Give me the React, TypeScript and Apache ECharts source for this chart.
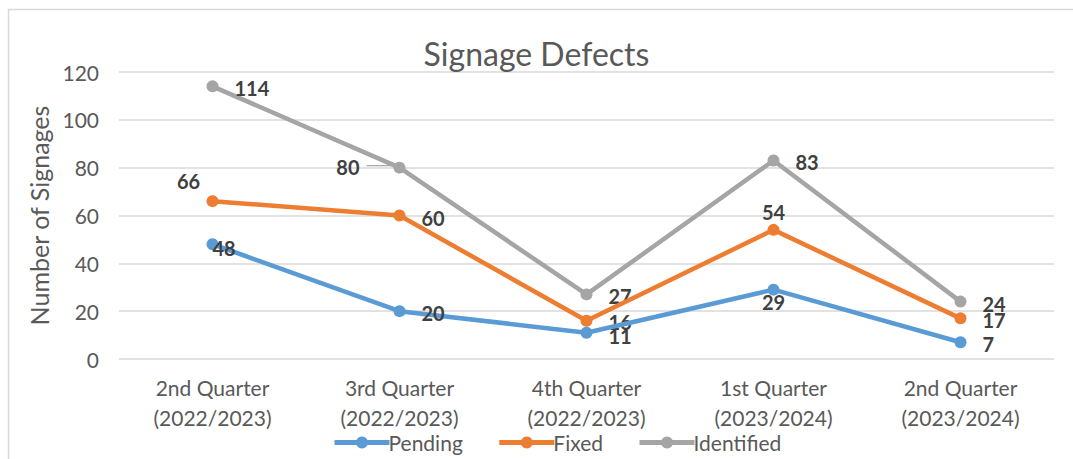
import React, { useEffect, useRef } from "react";
import * as echarts from "echarts";

const categories = [
  "2nd Quarter\n(2022/2023)",
  "3rd Quarter\n(2022/2023)",
  "4th Quarter\n(2022/2023)",
  "1st Quarter\n(2023/2024)",
  "2nd Quarter\n(2023/2024)",
];
const pending = [48, 20, 11, 29, 7];
const fixed = [66, 60, 16, 54, 17];
const identified = [114, 80, 27, 83, 24];
const yTicks = [0, 20, 40, 60, 80, 100, 120];
const seriesNames = ["Pending", "Fixed", "Identified"];

// label placement per point (style, not data)
const pendingPlace = ["overlap", "right", "rightLow", "bottom", "right"];
const fixedPlace = ["topLeft", "right", "rightUp", "top", "right"];
const identifiedPlace = ["right", "left", "right", "right", "right"];

const FONT = "Lato, 'Open Sans', sans-serif";
const LABEL_COLOR = "#404040";
const TEXT_COLOR = "#595959";

function labelFor(place: string) {
  switch (place) {
    case "left":
      return { position: "left", distance: 34, offset: [0, -1] };
    case "top":
      return { position: "top", distance: 2 };
    case "bottom":
      return { position: "bottom", distance: 0, offset: [0, -4] };
    case "topLeft":
      return { position: "top", distance: 4, offset: [-24, 0] };
    case "overlap":
      return { position: "right", distance: -6, offset: [0, 4] };
    case "rightLow":
      return { position: "right", distance: 16, offset: [0, 3] };
    case "rightUp":
      return { position: "right", distance: 16, offset: [0, 1] };
    default:
      return { position: "right", distance: 16, offset: [0, 2] };
  }
}

function buildData(values: number[], places: string[]) {
  return values.map((v, i) => ({ value: v, label: labelFor(places[i]) }));
}

function makeSeries(name: string, color: string, values: number[], places: string[]) {
  return {
    name,
    type: "line",
    data: buildData(values, places),
    symbol: "circle",
    symbolSize: 12,
    lineStyle: { color, width: 4.5 },
    itemStyle: { color },
    label: {
      show: true,
      color: LABEL_COLOR,
      fontFamily: FONT,
      fontWeight: "bold",
      fontSize: 20,
    },
    z: name === "Identified" ? 2 : name === "Fixed" ? 3 : 4,
  };
}

export default function App() {
  const ref = useRef<HTMLDivElement>(null);
  useEffect(() => {
    if (!ref.current) return;
    const chart = echarts.init(ref.current, null, { renderer: "svg" });
    chart.setOption({
      animation: false,
      backgroundColor: "#ffffff",
      textStyle: { fontFamily: FONT },
      title: {
        text: "Signage Defects",
        left: "center",
        top: 32,
        textStyle: { fontFamily: FONT, fontSize: 32, fontWeight: "normal", color: TEXT_COLOR },
      },
      legend: {
        bottom: 1,
        left: 327,
        itemWidth: 55,
        itemHeight: 15,
        itemGap: 34,
        lineStyle: { width: 5 },
        textStyle: { fontFamily: FONT, fontSize: 21, color: TEXT_COLOR, padding: [0, 0, 0, -6] },
        data: seriesNames.map((n) => ({ name: n, lineStyle: { width: 5 } })),
      },
      grid: { left: 119, right: 19, top: 72, bottom: 100 },
      xAxis: {
        type: "category",
        data: categories,
        boundaryGap: true,
        axisLine: { show: false },
        axisTick: { show: false },
        axisLabel: {
          fontFamily: FONT,
          fontSize: 21,
          color: TEXT_COLOR,
          margin: 13,
          lineHeight: 30,
        },
      },
      yAxis: {
        type: "value",
        min: yTicks[0],
        max: yTicks[yTicks.length - 1],
        interval: 20,
        name: "Number of Signages",
        nameLocation: "middle",
        nameGap: 67,
        nameTextStyle: { fontFamily: FONT, fontSize: 25, color: TEXT_COLOR },
        axisLine: { show: false },
        axisTick: { show: false },
        axisLabel: { fontFamily: FONT, fontSize: 21, color: TEXT_COLOR, margin: 20 },
        splitLine: { lineStyle: { color: "#d9d9d9", width: 1.5 } },
      },
      series: [
        makeSeries(seriesNames[0], "#5B9BD5", pending, pendingPlace),
        makeSeries(seriesNames[1], "#ED7D31", fixed, fixedPlace),
        makeSeries(seriesNames[2], "#A5A5A5", identified, identifiedPlace),
      ],
    });
    const p = chart.convertToPixel({ gridIndex: 0 }, [1, identified[1]]) as number[];
    chart.setOption({
      graphic: [
        {
          type: "rect",
          shape: { x: 8.5, y: 9.5, width: 1100, height: 500 },
          style: { fill: "none", stroke: "#d9d9d9", lineWidth: 1.5 },
          silent: true,
        },
        {
          type: "line",
          shape: { x1: p[0] - 33, y1: p[1] - 2, x2: p[0] - 8, y2: p[1] - 2 },
          style: { stroke: "#A5A5A5", lineWidth: 1.2 },
          silent: true,
        },
      ],
    });
    return () => chart.dispose();
  }, []);
  return (
    <div
      ref={ref}
      style={{ position: "absolute", left: 0, top: 0, width: 1073, height: 459 }}
    />
  );
}
